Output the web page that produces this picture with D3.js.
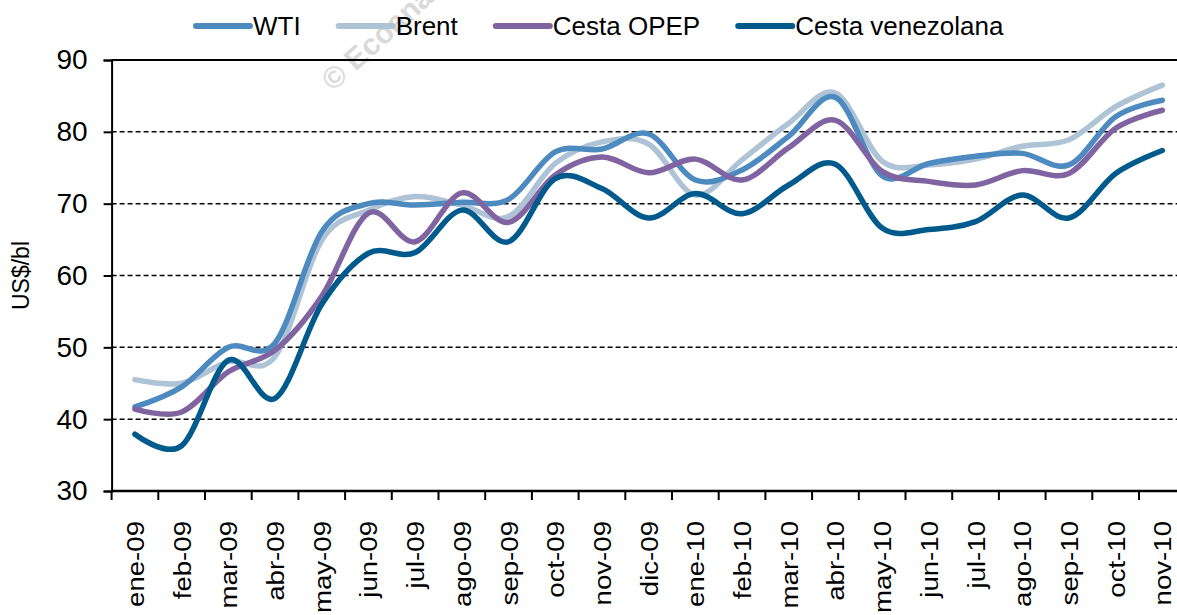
<!DOCTYPE html>
<html lang="es">
<head>
<meta charset="UTF-8">
<title>Precios del petróleo</title>
<script src="https://d3js.org/d3.v7.min.js"></script>
<style>
  body { margin: 0; background: #fff; }
  svg { display: block; font-family: "Liberation Sans", Arial, sans-serif; }
</style>
</head>
<body>
<svg id="chart" width="1177" height="615"></svg>
<script>
// Datos (US$/bl, promedios mensuales)
const months = ["ene-09", "feb-09", "mar-09", "abr-09", "may-09", "jun-09", "jul-09", "ago-09",
  "sep-09", "oct-09", "nov-09", "dic-09", "ene-10", "feb-10", "mar-10", "abr-10", "may-10",
  "jun-10", "jul-10", "ago-10", "sep-10", "oct-10", "nov-10"];

const wti = [41.7, 44.5, 50.0, 50.6, 66.1, 70.0, 69.8, 70.2, 70.6, 77.2, 77.6, 79.7,
  73.3, 74.7, 79.4, 84.8, 73.9, 75.6, 76.6, 77.0, 75.4, 82.1, 84.4];
const brent = [45.5, 45.0, 48.0, 48.7, 64.9, 69.1, 71.0, 69.8, 68.2, 75.6, 78.6, 78.3,
  71.2, 76.1, 81.2, 85.4, 75.9, 75.4, 76.2, 78.0, 78.9, 83.5, 86.5];
const opep = [41.4, 41.0, 46.6, 49.6, 57.1, 68.7, 64.7, 71.5, 67.4, 74.0, 76.5, 74.3,
  76.2, 73.3, 77.8, 81.6, 74.5, 73.1, 72.6, 74.6, 74.2, 80.5, 83.0];
const venez = [37.9, 36.3, 48.2, 42.9, 56.0, 63.1, 63.2, 69.1, 64.7, 73.5, 72.1, 68.0,
  71.4, 68.6, 72.6, 75.5, 66.6, 66.4, 67.5, 71.2, 68.0, 74.2, 77.4];

const yTicks = [30, 40, 50, 60, 70, 80, 90];

const seriesNames = ["WTI", "Brent", "Cesta OPEP", "Cesta venezolana"];
const seriesColors = ["#4C8ABF", "#AEC4D6", "#8064A2", "#005A8C"];
const seriesValues = [wti, brent, opep, venez];

const svg = d3.select("#chart");

// área del gráfico (el borde derecho queda fuera de la imagen)
const plotLeft = 111.6, plotTop = 60, plotBottom = 491;
const step = 46.7;
const plotRight = plotLeft + step * months.length;

const x = d3.scaleBand().domain(months).range([plotLeft, plotRight]);
const y = d3.scaleLinear().domain([30, 90]).range([plotBottom, plotTop]);
const cx = d => x(d) + x.bandwidth() / 2;

// marca de agua (cortada por el borde superior, como en el original)
svg.append("text")
  .attr("transform", "translate(333,92) rotate(-42)")
  .attr("fill", "#dadada")
  .attr("font-size", 30)
  .attr("font-weight", "bold")
  .text("© Ecoanalítica");

// líneas de cuadrícula
svg.append("g")
  .selectAll("line")
  .data(yTicks.filter(t => t > 30))
  .join("line")
  .attr("x1", plotLeft).attr("x2", plotRight)
  .attr("y1", d => y(d)).attr("y2", d => y(d))
  .attr("stroke", "#000")
  .attr("stroke-width", d => d === 90 ? 2 : 1.5)
  .attr("stroke-dasharray", d => d === 90 ? null : "5,3");

// eje Y
const yAxis = svg.append("g")
  .attr("transform", `translate(${plotLeft},0)`)
  .call(d3.axisLeft(y).tickValues(yTicks).tickSize(8).tickPadding(16));
yAxis.select(".domain").attr("stroke-width", 2);
yAxis.selectAll(".tick line").attr("stroke-width", 2);
yAxis.selectAll("text").attr("font-size", 28).attr("font-family", "Liberation Sans, Arial, sans-serif").attr("fill", "#000");

svg.append("text")
  .attr("transform", `translate(29,${(plotTop + plotBottom) / 2}) rotate(-90)`)
  .attr("text-anchor", "middle")
  .attr("font-size", 23)
  .text("US$/bl");

// eje X: marcas entre categorías
const xAxis = svg.append("g");
xAxis.append("line")
  .attr("x1", plotLeft).attr("x2", plotRight)
  .attr("y1", plotBottom).attr("y2", plotBottom)
  .attr("stroke", "#000").attr("stroke-width", 2.5);
xAxis.selectAll("line.tk")
  .data(months.concat(["fin"]))
  .join("line")
  .attr("class", "tk")
  .attr("x1", (d, i) => i < months.length ? x(d) : plotRight)
  .attr("x2", (d, i) => i < months.length ? x(d) : plotRight)
  .attr("y1", plotBottom).attr("y2", plotBottom + 9)
  .attr("stroke", "#000").attr("stroke-width", 2);
xAxis.selectAll("text")
  .data(months)
  .join("text")
  .attr("transform", d => `translate(${cx(d) + 9},${plotBottom + 30}) rotate(-90) scale(1.15,1)`)
  .attr("text-anchor", "end")
  .attr("font-size", 24)
  .text(d => d);

// series suavizadas
const line = d3.line()
  .x((d, i) => cx(months[i]))
  .y(d => y(d))
  .curve(d3.curveCardinal.tension(0));

const drawOrder = [1, 0, 2, 3];
svg.append("g")
  .selectAll("path")
  .data(drawOrder)
  .join("path")
  .attr("d", k => line(seriesValues[k]))
  .attr("fill", "none")
  .attr("stroke", k => seriesColors[k])
  .attr("stroke-width", 5.5)
  .attr("stroke-linecap", "round")
  .attr("stroke-linejoin", "round");

// leyenda
const legend = svg.append("g");
let lx = 196;
seriesNames.forEach((name, i) => {
  legend.append("line")
    .attr("x1", lx).attr("x2", lx + 54)
    .attr("y1", 26).attr("y2", 26)
    .attr("stroke", seriesColors[i])
    .attr("stroke-width", 6)
    .attr("stroke-linecap", "round");
  const t = legend.append("text")
    .attr("x", lx + 57)
    .attr("y", 35)
    .attr("font-size", 26)
    .text(name);
  lx += 57 + t.node().getComputedTextLength() + 38;
});
</script>
</body>
</html>
